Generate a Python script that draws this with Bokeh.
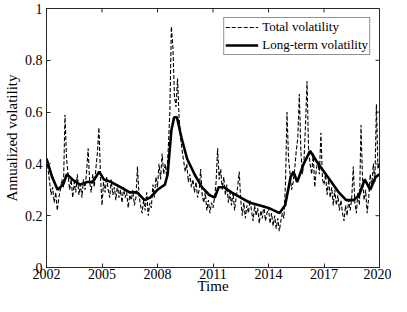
import math
from bokeh.plotting import figure
from bokeh.models import FixedTicker, Legend, LegendItem, Range1d
from bokeh.embed import file_html
from bokeh.resources import INLINE

# Total volatility, monthly values (2002-01 ... 2019-12, plus 2020-01)
tv_2002 = [0.42, 0.38, 0.33, 0.28, 0.31, 0.25, 0.29, 0.22, 0.27, 0.30, 0.34, 0.31]
tv_2003 = [0.59, 0.42, 0.36, 0.30, 0.34, 0.27, 0.33, 0.29, 0.36, 0.28, 0.32, 0.27]
tv_2004 = [0.34, 0.30, 0.37, 0.46, 0.33, 0.29, 0.36, 0.31, 0.38, 0.44, 0.54, 0.36]
tv_2005 = [0.24, 0.33, 0.29, 0.35, 0.30, 0.27, 0.34, 0.28, 0.31, 0.26, 0.32, 0.27]
tv_2006 = [0.30, 0.25, 0.31, 0.27, 0.29, 0.23, 0.28, 0.26, 0.30, 0.24, 0.27, 0.39]
tv_2007 = [0.28, 0.24, 0.21, 0.26, 0.22, 0.29, 0.20, 0.25, 0.23, 0.32, 0.27, 0.35]
tv_2008 = [0.31, 0.40, 0.34, 0.44, 0.36, 0.40, 0.35, 0.46, 0.60, 0.93, 0.85, 0.66]
tv_2009 = [0.62, 0.73, 0.58, 0.50, 0.45, 0.41, 0.37, 0.40, 0.33, 0.36, 0.31, 0.34]
tv_2010 = [0.29, 0.33, 0.27, 0.30, 0.38, 0.28, 0.25, 0.29, 0.22, 0.26, 0.21, 0.25]
tv_2011 = [0.23, 0.27, 0.33, 0.46, 0.34, 0.38, 0.30, 0.35, 0.28, 0.32, 0.25, 0.29]
tv_2012 = [0.24, 0.29, 0.22, 0.27, 0.31, 0.37, 0.26, 0.20, 0.25, 0.19, 0.24, 0.21]
tv_2013 = [0.26, 0.22, 0.18, 0.24, 0.20, 0.23, 0.17, 0.22, 0.19, 0.24, 0.18, 0.21]
tv_2014 = [0.23, 0.17, 0.21, 0.16, 0.20, 0.15, 0.19, 0.14, 0.18, 0.21, 0.19, 0.32]
tv_2015 = [0.60, 0.42, 0.36, 0.30, 0.33, 0.38, 0.45, 0.50, 0.67, 0.45, 0.36, 0.41]
tv_2016 = [0.55, 0.72, 0.45, 0.40, 0.36, 0.44, 0.31, 0.38, 0.41, 0.36, 0.52, 0.34]
tv_2017 = [0.32, 0.36, 0.28, 0.34, 0.27, 0.31, 0.24, 0.30, 0.24, 0.28, 0.22, 0.26]
tv_2018 = [0.21, 0.18, 0.24, 0.20, 0.26, 0.22, 0.27, 0.39, 0.25, 0.21, 0.29, 0.24]
tv_2019 = [0.55, 0.34, 0.26, 0.30, 0.21, 0.27, 0.36, 0.31, 0.40, 0.33, 0.63, 0.38]
tv_2020 = [0.40]

total_vol = (tv_2002 + tv_2003 + tv_2004 + tv_2005 + tv_2006 + tv_2007 + tv_2008 +
             tv_2009 + tv_2010 + tv_2011 + tv_2012 + tv_2013 + tv_2014 + tv_2015 +
             tv_2016 + tv_2017 + tv_2018 + tv_2019 + tv_2020)
total_time = [2002 + k / 12 for k in range(len(total_vol))]

# Long-term volatility, read at selected dates
lt_time = [2002.0, 2002.3, 2002.6, 2002.9, 2003.1, 2003.4, 2003.8, 2004.2, 2004.5, 2004.85,
           2005.1, 2005.5, 2006.0, 2006.5, 2006.9, 2007.3, 2007.6, 2008.0, 2008.4, 2008.55,
           2008.75, 2008.9, 2009.05, 2009.3, 2009.6, 2010.0, 2010.4, 2010.8, 2011.1, 2011.3,
           2011.6, 2012.0, 2012.5, 2013.0, 2013.5, 2014.0, 2014.6, 2014.9, 2015.2, 2015.35,
           2015.55, 2015.9, 2016.25, 2016.6, 2017.0, 2017.4, 2017.8, 2018.2, 2018.6, 2018.9,
           2019.2, 2019.5, 2019.8, 2020.0]
lt_vol = [0.42, 0.35, 0.30, 0.32, 0.36, 0.34, 0.32, 0.33, 0.33, 0.37,
          0.34, 0.33, 0.31, 0.29, 0.29, 0.26, 0.27, 0.30, 0.32, 0.36,
          0.53, 0.58, 0.58, 0.50, 0.42, 0.36, 0.31, 0.28, 0.27, 0.31,
          0.31, 0.29, 0.27, 0.25, 0.24, 0.23, 0.21, 0.24, 0.35, 0.37,
          0.33, 0.40, 0.45, 0.41, 0.37, 0.33, 0.29, 0.26, 0.26, 0.28,
          0.34, 0.30, 0.35, 0.36]

x_ticks = [2002, 2005, 2008, 2011, 2014, 2017, 2020]
y_ticks = [0, 0.2, 0.4, 0.6, 0.8, 1.0]
y_tick_labels = {0: "0", 0.2: "0.2", 0.4: "0.4", 0.6: "0.6", 0.8: "0.8", 1: "1"}

FONT = "Liberation Serif"
AX = "#262626"

p = figure(width=391, height=296, output_backend="svg", toolbar_location=None,
           x_range=Range1d(2002, 2020), y_range=Range1d(0, 1),
           min_border_top=8, min_border_right=12, min_border_left=0, min_border_bottom=0)
p.background_fill_color = "white"
p.border_fill_color = "white"
p.outline_line_color = AX
p.outline_line_width = 1
p.xgrid.visible = False
p.ygrid.visible = False

for ax in (p.xaxis[0], p.yaxis[0]):
    ax.axis_line_color = AX
    ax.major_tick_line_color = AX
    ax.major_tick_in = 4
    ax.major_tick_out = 0
    ax.minor_tick_line_color = None
    ax.major_label_text_font = FONT
    ax.major_label_text_font_size = "14px"
    ax.major_label_text_color = "black"
    ax.axis_label_text_font = FONT
    ax.axis_label_text_font_size = "15px"
    ax.axis_label_text_font_style = "normal"
    ax.axis_label_text_color = "black"

p.xaxis[0].ticker = FixedTicker(ticks=x_ticks)
p.yaxis[0].ticker = FixedTicker(ticks=y_ticks)
p.yaxis[0].major_label_overrides = y_tick_labels
p.xaxis[0].axis_label = "Time"
p.yaxis[0].axis_label = "Annualized volatility"
p.xaxis[0].major_label_standoff = 1
p.yaxis[0].major_label_standoff = 4
p.xaxis[0].axis_label_standoff = -4
p.yaxis[0].axis_label_standoff = 2

# mirrored inward ticks on the top and right edges of the box
x_end = p.x_range.end
y_end = p.y_range.end
p.ray(x=x_ticks, y=[y_end] * len(x_ticks), length=4, length_units="screen",
      angle=-math.pi / 2, line_color=AX, line_width=1)
p.ray(x=[x_end] * len(y_ticks), y=y_ticks, length=4, length_units="screen",
      angle=math.pi, line_color=AX, line_width=1)

r_tot = p.line(total_time, total_vol, line_color="black", line_width=1.1, line_dash="4 2")
r_lt = p.line(lt_time, lt_vol, line_color="black", line_width=2.6)

legend = Legend(items=[LegendItem(label="Total volatility", renderers=[r_tot]),
                       LegendItem(label="Long-term volatility", renderers=[r_lt])],
                location="top_right")
legend.label_text_font = FONT
legend.label_text_font_size = "13px"
legend.label_text_color = "black"
legend.glyph_width = 33
legend.glyph_height = 14
legend.label_height = 14
legend.label_width = 10
legend.spacing = 2
legend.padding = 1
legend.margin = 9
legend.label_standoff = 4
legend.border_line_color = AX
legend.border_line_width = 1
legend.background_fill_color = "white"
legend.background_fill_alpha = 1
p.add_layout(legend)

open("out.html", "w").write(file_html(p, INLINE))
